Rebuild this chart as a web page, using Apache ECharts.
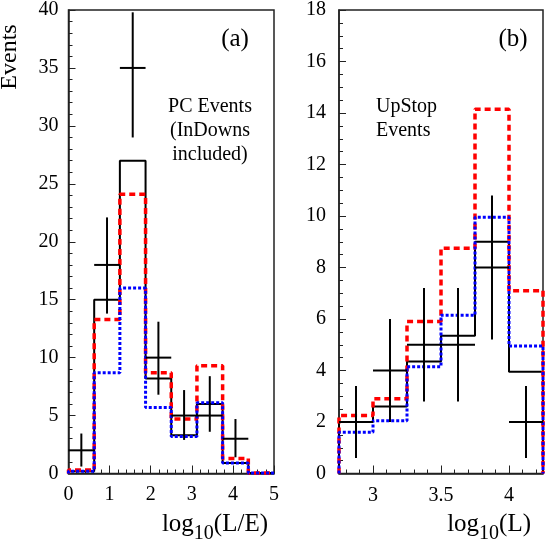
<!DOCTYPE html>
<html>
<head>
<meta charset="utf-8">
<script src="https://cdn.jsdelivr.net/npm/echarts@6/dist/echarts.min.js"></script>
<style>
  html, body { margin: 0; padding: 0; background: #fff; }
  #chart { width: 545px; height: 540px; }
</style>
</head>
<body>
<div id="chart"></div>
<script>
// panel (a): PC events vs log10(L/E)
const edgesA = [0, 0.625, 1.25, 1.875, 2.5, 3.125, 3.75, 4.375, 5]
const blackA = [0.2, 15.0, 27.0, 8.2, 3.3, 6.0, 0.9, 0.05]
const redA = [0.3, 13.3, 24.1, 8.7, 4.7, 9.3, 1.3, 0.05]
const blueA = [0.2, 8.7, 16.0, 5.7, 3.2, 6.1, 0.9, 0.05]
const dataA = [2, 18, 35, 10, 5, 5, 3]
const dataLoA = [0.6, 13.8, 29.0, 6.8, 2.9, 3.6, 1.4]
const dataHiA = [3.45, 22.1, 39.8, 13.1, 7.2, 8.4, 4.7]

// panel (b): UpStop events vs log10(L)
const edgesB = [2.75, 3, 3.25, 3.5, 3.75, 4, 4.25]
const blackB = [2.0, 2.6, 4.35, 5.35, 9.0, 3.95]
const redB = [2.25, 2.9, 5.9, 8.75, 14.15, 7.1]
const blueB = [1.6, 2.05, 4.15, 6.15, 9.95, 4.95]
const dataB = [2, 4, 5, 5, 8, 2]
const dataLoB = [0.6, 2.0, 2.8, 2.8, 5.2, 0.6]
const dataHiB = [3.4, 6.0, 7.2, 7.2, 10.8, 3.4]

const majorTicksB = [3, 3.5, 4]
const minorTicksB = [2.8, 2.9, 3.1, 3.2, 3.3, 3.4, 3.6, 3.7, 3.8, 3.9, 4.1, 4.2]

const FONT = 'Liberation Serif'
const AXIS_COLOR = '#222'

function histPoints(edges, vals) {
  const pts = [[edges[0], 0]]
  for (let i = 0; i < vals.length; i++) {
    pts.push([edges[i], vals[i]])
  }
  pts.push([edges[edges.length - 1], vals[vals.length - 1]])
  pts.push([edges[edges.length - 1], 0])
  return pts
}

// data rows: [center, value, lo, hi, left, right], data starts at first bin
function dataRows(edges, vals, lo, hi) {
  return vals.map((v, i) => [
    (edges[i] + edges[i + 1]) / 2, v, lo[i], hi[i], edges[i], edges[i + 1]
  ])
}

function renderErr(params, api) {
  const c = api.coord([api.value(0), api.value(1)])
  const top = api.coord([api.value(0), api.value(3)])
  const bot = api.coord([api.value(0), api.value(2)])
  const l = api.coord([api.value(4), api.value(1)])
  const r = api.coord([api.value(5), api.value(1)])
  const style = { stroke: '#000', lineWidth: 2 }
  return {
    type: 'group',
    children: [
      { type: 'line', shape: { x1: top[0], y1: top[1], x2: bot[0], y2: bot[1] }, style: style },
      { type: 'line', shape: { x1: l[0], y1: c[1], x2: r[0], y2: c[1] }, style: style }
    ]
  }
}

function histSeries(name, idx, pts, color, width, dash, z) {
  return {
    name: name,
    type: 'line',
    step: 'end',
    xAxisIndex: idx,
    yAxisIndex: idx,
    data: pts,
    symbol: 'none',
    clip: false,
    z: z,
    lineStyle: { color: color, width: width, type: dash }
  }
}

const labelStyle = { fontFamily: FONT, fontSize: 20, color: '#000' }
const subRich = { sub: { fontFamily: FONT, fontSize: 20, padding: [19, 0, 0, 0] } }

const chart = echarts.init(document.getElementById('chart'), null, { renderer: 'canvas' })

chart.setOption({
  animation: false,
  backgroundColor: '#fff',
  grid: [
    { left: 68.5, top: 7.5, width: 205.5, height: 466, show: true, borderColor: AXIS_COLOR, borderWidth: 1.5 },
    { left: 339, top: 7.5, width: 204, height: 466, show: true, borderColor: AXIS_COLOR, borderWidth: 1.5 }
  ],
  xAxis: [
    {
      gridIndex: 0, type: 'value', min: 0, max: 5, interval: 1,
      axisLine: { lineStyle: { color: AXIS_COLOR, width: 1.5 } },
      axisTick: { inside: true, length: 8, lineStyle: { color: AXIS_COLOR } },
      minorTick: { show: true, splitNumber: 5, length: 4, lineStyle: { color: AXIS_COLOR } },
      axisLabel: Object.assign({ margin: 11 }, labelStyle),
      splitLine: { show: false }
    },
    {
      gridIndex: 1, type: 'value', min: 2.75, max: 4.25, position: 'bottom',
      axisLine: { lineStyle: { color: AXIS_COLOR, width: 1.5 } },
      axisTick: { inside: true, length: 8, customValues: majorTicksB, lineStyle: { color: AXIS_COLOR } },
      axisLabel: Object.assign({ margin: 12, customValues: majorTicksB }, labelStyle),
      splitLine: { show: false }
    },
    {
      gridIndex: 1, type: 'value', min: 2.75, max: 4.25, position: 'bottom',
      axisLine: { show: false },
      axisTick: { inside: true, length: 4, customValues: minorTicksB, lineStyle: { color: AXIS_COLOR } },
      axisLabel: { show: false },
      splitLine: { show: false }
    }
  ],
  yAxis: [
    {
      gridIndex: 0, type: 'value', min: 0, max: 40, interval: 5,
      axisLine: { show: true, lineStyle: { color: AXIS_COLOR, width: 1.5 } },
      axisTick: { show: true, inside: true, length: 7, lineStyle: { color: AXIS_COLOR } },
      minorTick: { show: true, splitNumber: 5, length: 4, lineStyle: { color: AXIS_COLOR } },
      axisLabel: Object.assign({ margin: 10 }, labelStyle),
      splitLine: { show: false }
    },
    {
      gridIndex: 1, type: 'value', min: 0, max: 18, interval: 2,
      axisLine: { show: true, lineStyle: { color: AXIS_COLOR, width: 1.5 } },
      axisTick: { show: true, inside: true, length: 7, lineStyle: { color: AXIS_COLOR } },
      minorTick: { show: true, splitNumber: 4, length: 4, lineStyle: { color: AXIS_COLOR } },
      axisLabel: Object.assign({ margin: 13 }, labelStyle),
      splitLine: { show: false }
    }
  ],
  series: [
    histSeries('black a', 0, histPoints(edgesA, blackA), '#000', 2, 'solid', 2),
    histSeries('red a', 0, histPoints(edgesA, redA), '#ff0000', 3.5, [6, 4], 3),
    histSeries('blue a', 0, histPoints(edgesA, blueA), '#0000ff', 3, [3, 2], 4),
    {
      name: 'data a', type: 'custom', xAxisIndex: 0, yAxisIndex: 0, z: 5,
      renderItem: renderErr, data: dataRows(edgesA, dataA, dataLoA, dataHiA)
    },
    histSeries('black b', 1, histPoints(edgesB, blackB), '#000', 2, 'solid', 2),
    histSeries('red b', 1, histPoints(edgesB, redB), '#ff0000', 3.5, [6, 4], 3),
    histSeries('blue b', 1, histPoints(edgesB, blueB), '#0000ff', 3, [3, 2], 4),
    {
      name: 'data b', type: 'custom', xAxisIndex: 1, yAxisIndex: 1, z: 5,
      renderItem: renderErr, data: dataRows(edgesB, dataB, dataLoB, dataHiB)
    }
  ],
  graphic: [
    {
      type: 'text', x: 10, y: 57, rotation: Math.PI / 2,
      style: { text: 'Events', fontFamily: FONT, fontSize: 24, fill: '#000', align: 'center', verticalAlign: 'middle' }
    },
    {
      type: 'text', x: 235, y: 39,
      style: { text: '(a)', fontFamily: FONT, fontSize: 25, fill: '#000', align: 'center', verticalAlign: 'middle' }
    },
    {
      type: 'text', x: 513, y: 39,
      style: { text: '(b)', fontFamily: FONT, fontSize: 25, fill: '#000', align: 'center', verticalAlign: 'middle' }
    },
    {
      type: 'text', x: 210, y: 95,
      style: { text: 'PC Events\n(InDowns\nincluded)', fontFamily: FONT, fontSize: 20, lineHeight: 24, fill: '#000', align: 'center', verticalAlign: 'top' }
    },
    {
      type: 'text', x: 376, y: 95,
      style: { text: 'UpStop\nEvents', fontFamily: FONT, fontSize: 20, lineHeight: 24, fill: '#000', align: 'left', verticalAlign: 'top' }
    },
    {
      type: 'text', x: 268, y: 524,
      style: {
        text: 'log{sub|10}(L/E)', fontFamily: FONT, fontSize: 25, fill: '#000', align: 'right', verticalAlign: 'middle',
        rich: subRich
      }
    },
    {
      type: 'text', x: 531, y: 524,
      style: {
        text: 'log{sub|10}(L)', fontFamily: FONT, fontSize: 25, fill: '#000', align: 'right', verticalAlign: 'middle',
        rich: subRich
      }
    }
  ]
})
</script>
</body>
</html>
